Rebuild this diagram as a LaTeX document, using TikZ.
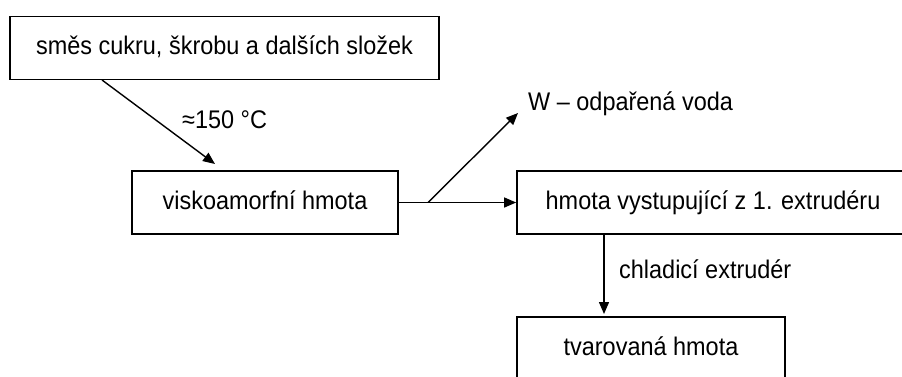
\documentclass[tikz,border=0pt]{standalone}
\usepackage{fontspec}
\setmainfont[FakeStretch=0.92]{Liberation Sans}
\usetikzlibrary{arrows.meta}
\begin{document}
\begin{tikzpicture}[x=1pt,y=1pt,
  every node/.style={font=\fontsize{25.5}{30}\selectfont},
  box/.style={draw, line width=1.7pt, inner sep=0pt, minimum height=63pt, text height=18pt, text depth=5pt},
  lbl/.style={inner sep=0pt, anchor=base west},
  arr/.style={line width=1.4pt, -{Triangle[length=12pt,width=10pt]}}]
\useasboundingbox (0,0) rectangle (902,376);
\clip (0,0) rectangle (902,376);
\fill[white] (0,0) rectangle (902,376);
\node[box, minimum width=429pt] (mix) at (224.5,328) {směs cukru, škrobu a dalších složek};
\node[box, minimum width=266pt] (visko) at (265,173.5) {viskoamorfní hmota};
\node[box, minimum width=392pt] (hmota) at (713,173.5) {hmota vystupující z 1. extrudéru};
\node[box, minimum width=268pt] (tvar) at (651,27.5) {tvarovaná hmota};
\coordinate (a1s) at (102,296);
\coordinate (a1e) at (215,212);
\draw[arr] (a1s) -- (a1e);
\node[lbl] (t150) at (182,248) {≈150 °C};
\draw[arr] (visko.east) -- (hmota.west);
\coordinate (br) at (428,173.5);
\coordinate (wtip) at (518,263);
\draw[arr] (br) -- (wtip);
\node[lbl] (wtxt) at (528,266) {W – odpařená voda};
\coordinate (vbot) at (604,62);
\draw[arr] (vbot |- hmota.south) -- (vbot);
\node[lbl] (chl) at (619,98) {chladicí extrudér};
\end{tikzpicture}
\end{document}
